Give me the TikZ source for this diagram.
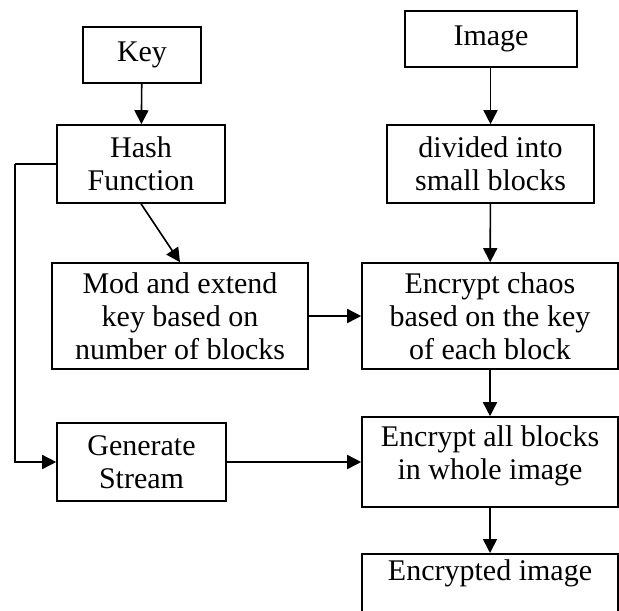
\documentclass[tikz,border=0pt]{standalone}
\usepackage{fontspec}
\setmainfont{Liberation Serif}
\usetikzlibrary{arrows.meta}
\begin{document}
\begin{tikzpicture}[x=0.5pt,y=-0.5pt,
  box/.style={draw, line width=0.8pt, inner sep=0pt, align=center,
    font=\fontsize{15}{16.5}\selectfont},
  arr/.style={line width=0.8pt, -{Triangle[length=7pt,width=7pt]}},
  ln/.style={line width=0.8pt}]
\useasboundingbox (0,0) rectangle (619,610);
\clip (0,0) rectangle (619,610);
\node[box, minimum width=59pt, minimum height=28pt] (key) at (142,55) {Key};
\node[box, minimum width=84pt, minimum height=39pt] (hash) at (141,164) {Hash\\Function};
\node[box, minimum width=128pt, minimum height=53pt] (mod) at (180,316) {Mod and extend\\key based on\\number of blocks};
\node[box, minimum width=84.5pt, minimum height=39pt] (gen) at (141.5,462) {Generate\\Stream};
\node[box, minimum width=86pt, minimum height=28pt] (img) at (491,39) {Image};
\node[box, minimum width=103.5pt, minimum height=39pt] (div) at (490.5,164) {divided into\\small blocks};
\node[box, minimum width=128pt, minimum height=53pt] (chaos) at (490,316) {Encrypt chaos\\based on the key\\of each block};
\node[draw, line width=0.8pt, inner sep=0pt, font=\fontsize{15}{16.5}\selectfont, minimum width=128pt, minimum height=45pt] (all) at (490,462) {\raisebox{3pt}[\height][\depth]{\begin{tabular}{@{}c@{}}Encrypt all blocks\\in whole image\end{tabular}}};
\node[box, minimum width=128pt, text height=13.5pt, text depth=30pt, anchor=north] (enc) at (490,553) {Encrypted image};
\coordinate (lft) at (15,164);
\draw[arr] (key) -- (hash);
\draw[arr] (hash.south) -- (mod.north);
\draw[ln] (hash.west) -- (lft);
\draw[arr] (lft) |- (gen.west);
\draw[arr] (mod) -- (chaos);
\draw[arr] (gen) -- (all);
\draw[arr] (img.south -| div.north) -- (div);
\draw[arr] (div) -- (chaos);
\draw[arr] (chaos) -- (all);
\draw[arr] (all) -- (enc);
\end{tikzpicture}
\end{document}
